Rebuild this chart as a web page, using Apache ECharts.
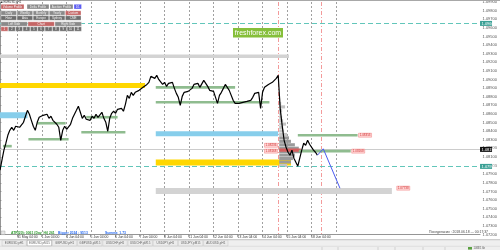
<!DOCTYPE html>
<html><head><meta charset="utf-8">
<style>html,body{margin:0;padding:0;background:#fff;overflow:hidden}#c{width:500px;height:250px;}</style>
<script src="https://cdn.jsdelivr.net/npm/echarts@6/dist/echarts.min.js"></script>
</head><body><div id="c"></div>
<script>
// ---------------- data ----------------
const priceStep = 2; // hours between plotted points
const closes = [
1.07947,1.08063,1.08179,1.08260,1.08352,1.08410,1.08445,1.08410,1.08457,1.08480,
1.08445,1.08468,1.08503,1.08573,1.08642,1.08596,1.08526,1.08457,1.08410,1.08503,
1.08561,1.08538,1.08584,1.08561,1.08596,1.08549,1.08573,1.08526,1.08549,1.08480,
1.08445,1.08294,1.08410,1.08457,1.08422,1.08445,1.08480,1.08549,1.08596,1.08642,
1.08689,1.08619,1.08549,1.08584,1.08538,1.08561,1.08526,1.08573,1.08549,1.08596,
1.08561,1.08573,1.08619,1.08549,1.08503,1.08399,1.08549,1.08607,1.08631,1.08607,
1.08654,1.08631,1.08665,1.08631,1.08712,1.08816,1.08781,1.08851,1.08816,1.08851,
1.08828,1.08874,1.08862,1.08909,1.08897,1.08943,1.08967,1.09036,1.09059,1.09013,
1.09048,1.09001,1.08978,1.08943,1.08967,1.08920,1.08955,1.08943,1.08967,1.08897,
1.08839,1.08793,1.08700,1.08804,1.08851,1.08828,1.08862,1.08839,1.08897,1.08943,
1.08920,1.08955,1.08909,1.08932,1.08990,1.08955,1.08920,1.08874,1.08897,1.08862,
1.08874,1.08723,1.08816,1.08851,1.08897,1.08943,1.08920,1.08874,1.08897,1.08758,
1.08723,1.08746,1.08723,1.08746,1.08735,1.08723,1.08746,1.08723,1.08758,1.08793,
1.08839,1.08816,1.08851,1.08665,1.08851,1.08909,1.08897,1.08943,1.08932,1.08967,
1.08990,1.09013,1.09048,1.08665,1.08468,1.08294,1.08213,1.08155,1.08121,1.08179,
1.08086,1.08063,1.07993,1.08086,1.08179,1.08260,1.08236,1.08294,1.08248,1.08225,
1.08179,1.08155,1.08121
];
const projX = [324, 330, 347];
const projP = [1.08121, 1.08195, 1.07738];

// zones: [xStart, xEnd, priceLow, priceHigh]
const grayZones   = [[0, 295, 1.0925, 1.0929], [159, 400, 1.0767, 1.0774]];
const yellowZones = [[0, 148, 1.0890, 1.0896], [159, 297, 1.0800, 1.0807]];
const blueZones   = [[0, 28, 1.0855, 1.0862], [159, 284, 1.0834, 1.0840]];
const redZones    = [[285, 307, 1.0816, 1.0820]];
// green levels: [xStart, xEnd, price]
const greenLevels = [
  [3, 12, 1.08226], [29, 70, 1.08307], [38, 67, 1.08492], [83, 128, 1.08388],
  [88, 120, 1.08562], [159, 240, 1.08909], [159, 275, 1.08735],
  [304, 365, 1.08353], [305, 358, 1.08168]
];
// price tags: [x, price]
const priceTags = [[366, 1.08353], [359, 1.08168], [405, 1.07738], [270, 1.08236], [270, 1.08168]];

const profileStart = 285;
const profileStep = 0.0004;
const profilePrices  = [1.0800,1.0804,1.0808,1.0812,1.0816,1.0820,1.0824,1.0828,1.0832,1.0836,
                        1.0840,1.0844,1.0848,1.0852,1.0856,1.0860,1.0864,1.0868,1.0872,1.0876];
const profileVolumes = [8,12,14,16,22,20,16,12,10,8,5,4,7,4,3,2,3,6,2,1];

const tealLevels = [1.0966, 1.0799];
const currentPrice = [1.0819];
const dayLines = [17.5,42.5,67.5,92.5,117.5,142.5,167.5,192.5,217.5,242.5,267.5,292.5,317.5,342.5];
const sessionLines = [284, 328];
const xLabelPos = [0,17.5,42.5,67.5,92.5,117.5,142.5,167.5,192.5,217.5,242.5,267.5,292.5,317.5];
const xLabels = ["30 May 2018","31 May 04:00","1 Jun 04:00","4 Jun 04:00","5 Jun 04:00","6 Jun 04:00",
  "7 Jun 04:00","8 Jun 04:00","11 Jun 04:00","12 Jun 04:00","13 Jun 04:00","14 Jun 04:00","15 Jun 04:00","18 Jun 04:00"];
const yMin = 1.0720, yMax = 1.0990, yStep = 0.001;

const panelRow1 = ["Volume Profile","Delta Profile","Auction Profile","D1"];
const panelRow2 = ["Daily","Weekly","Monthly","Yearly","Custom"];
const panelRow3 = ["Hour","Asia","Europe","Sydney","CME"];
const panelRow4 = ["Left Side","Chart","Right Side"];
const panelRow5 = ["1","2","3","4","5","6","7","8","9","10","11"];
const tabs = ["EURUSD,pH1","EURUSD,pM15","GBPUSD,pH1","GBPUSD,pM15","USDCHF,pH1","USDCHF,pM15","USDJPY,pH1","USDJPY,pM15","AUDUSD,pH1"];
const statusTexts = ["ATR(20): 0061 (Day_Hi) 261","Bigger 2024 : 9513","Summa: 1.73"];
const clockText = "Понедельник : 2018.06.18 — 00:17:37";

// ---------------- chart ----------------
const FONT = 'Liberation Sans';
const chart = echarts.init(document.getElementById('c'), null, {renderer:'canvas'});

function zoneSeries(data, color, z){
  return {type:'custom', silent:true, z, data, clip:true,
    encode:{x:[0,1], y:[2,3]},
    renderItem(params, api){
      const a = api.coord([api.value(0), api.value(3)]);
      const b = api.coord([api.value(1), api.value(2)]);
      return {type:'rect', shape:{x:a[0], y:a[1], width:b[0]-a[0], height:b[1]-a[1]}, style:{fill:color}};
    }};
}
function vLineSeries(values, color, dash, z){
  return {type:'custom', silent:true, z, clip:false, data: values.map(v=>[v, yMin]), encode:{x:0, y:1},
    renderItem(params, api){
      const cs = params.coordSys;
      const x = Math.round(api.coord([api.value(0), yMin])[0]) + 0.5;
      return {type:'line', shape:{x1:x, y1:cs.y, x2:x, y2:cs.y+cs.height}, style:{stroke:color, lineWidth:1, lineDash:dash}};
    }};
}
function hLineSeries(values, color, dash, labelBg, z){
  return {type:'custom', silent:true, z, clip:false, data: values.map(v=>[0, v]), encode:{x:0, y:1},
    renderItem(params, api){
      const cs = params.coordSys;
      const y = Math.round(api.coord([0, api.value(1)])[1]) + 0.5;
      const ch = [{type:'line', shape:{x1:cs.x, y1:y, x2:cs.x+cs.width, y2:y}, style:{stroke:color, lineWidth:1, lineDash:dash}}];
      if (labelBg) {
        ch.push({type:'rect', shape:{x:cs.x+cs.width, y:y-2.6, width:12, height:5}, style:{fill:labelBg}, z2:10});
        ch.push({type:'text', style:{x:cs.x+cs.width+1.5, y:y, text:api.value(1).toFixed(5), fontSize:4, fontFamily:FONT, fill:'#fff', verticalAlign:'middle'}, z2:11});
      }
      return {type:'group', children:ch};
    }};
}

const priceData = closes.map((p,i)=>[i*priceStep, p]);
const projData = projX.map((x,i)=>[x, projP[i]]);

const series = [
  vLineSeries(dayLines, '#a0a0a0', [2,2], 1),
  vLineSeries(sessionLines, '#f39a9a', [4,2,1,2], 1),
  zoneSeries(grayZones, '#d3d3d3', 2),
  zoneSeries(yellowZones, '#ffd700', 3),
  zoneSeries(blueZones, '#87ceeb', 3),
  hLineSeries(currentPrice, '#cccccc', null, '#111111', 2),
  // volume profile
  {type:'custom', silent:true, z:4,
   data: profilePrices.map((p,i)=>[profileStart, p, profileVolumes[i]]),
   encode:{x:0, y:1},
   renderItem(params, api){
     const a = api.coord([api.value(0), api.value(1)]);
     const b = api.coord([api.value(0)+api.value(2), api.value(1)]);
     const h = api.size([0, profileStep])[1];
     return {type:'rect', shape:{x:a[0], y:a[1]-h/2, width:b[0]-a[0], height:h*0.9},
       style:{fill: api.value(2) > 9 ? '#9a9a9a' : '#c4c4c4'}};
   }},
  zoneSeries(redZones, '#d65c5c', 5),
  // green levels
  {type:'custom', silent:true, z:5, data: greenLevels, encode:{x:[0,1], y:2},
   renderItem(params, api){
     const a = api.coord([api.value(0), api.value(2)]);
     const b = api.coord([api.value(1), api.value(2)]);
     return {type:'rect', shape:{x:a[0], y:a[1]-1.3, width:b[0]-a[0], height:2.6}, style:{fill:'#8fbc8f'}};
   }},
  hLineSeries(tealLevels, '#62c6ba', [5,3], '#3aa095', 6),
  // price tags
  {type:'custom', silent:true, z:8, data: priceTags, encode:{x:0, y:1},
   renderItem(params, api){
     const a = api.coord([api.value(0), api.value(1)]);
     return {type:'group', children:[
       {type:'rect', shape:{x:a[0], y:a[1]-2, width:13, height:4}, style:{fill:'#ffd6d6', stroke:'#f08080', lineWidth:0.5}},
       {type:'text', style:{x:a[0]+6.5, y:a[1], text:api.value(1).toFixed(5), fontSize:3, fontFamily:FONT, fill:'#d03030', align:'center', verticalAlign:'middle'}}
     ]};
   }},
  // price
  {type:'line', data: priceData, showSymbol:false, symbol:'none', z:10, silent:true,
   lineStyle:{color:'#000', width:1.2}},
  // projection
  {type:'line', data: projData, showSymbol:false, symbol:'none', z:10, silent:true,
   lineStyle:{color:'#4b5bf0', width:1}}
];

// ---- overlay UI ----
const g = [];
function btn(x,y,w,h,text,fill){
  g.push({type:'rect', shape:{x,y,width:w,height:h}, style:{fill, stroke:'#ffffff', lineWidth:0.3}, z:100});
  g.push({type:'text', style:{x:x+w/2, y:y+h/2+0.2, text, fontSize:3, fontFamily:FONT, fill:'#f4f4f4', align:'center', verticalAlign:'middle'}, z:101});
}
const RED='#c56565', GRAY='#8a8a8a', DGRAY='#6e6e6e', BLUE='#5c5cf2';
g.push({type:'rect', shape:{x:0,y:0,width:500,height:1}, style:{fill:'#a8a8a8'}, z:100});
g.push({type:'text', style:{x:1,y:2.3,text:'■ EURUSD,pH1', fontSize:2.8, fontFamily:FONT, fill:'#333', verticalAlign:'middle'}, z:101});
[[1,23],[27,22],[50,23],[74,7.5]].forEach((s,i)=>btn(s[0],4.3,s[1],4.7,panelRow1[i], i===0?RED:(i===3?BLUE:GRAY)));
panelRow2.forEach((t,i)=>btn(1+i*16.1,10.8,15.6,4.4,t, i===4?RED:GRAY));
panelRow3.forEach((t,i)=>btn(1+i*16.1,15.8,15.6,4.4,t, DGRAY));
panelRow4.forEach((t,i)=>btn(1+i*27,21.8,26.4,4.4,t, i===1?RED:GRAY));
panelRow5.forEach((t,i)=>btn(1+i*7.35,26.8,6.9,4.4,t, i===0?RED:DGRAY));
// freshforex badge
g.push({type:'rect', shape:{x:233,y:28,width:50,height:9.5}, style:{fill:'#86bf3a'}, z:100});
g.push({type:'text', style:{x:258,y:33,text:'freshforex.com', fontSize:7, fontFamily:FONT, fill:'#fff', align:'center', verticalAlign:'middle'}, z:101});
// status row
g.push({type:'rect', shape:{x:1,y:231,width:4,height:3.6}, style:{fill:'#e6e6e6', stroke:'#999', lineWidth:0.4}, z:100});
g.push({type:'text', style:{x:11,y:233,text:statusTexts[0], fontSize:3.4, fontFamily:FONT, fontWeight:'bold', fill:'#2f9a2f', verticalAlign:'middle'}, z:101});
g.push({type:'text', style:{x:58,y:233,text:statusTexts[1], fontSize:3.4, fontFamily:FONT, fontWeight:'bold', fill:'#2a6cf0', verticalAlign:'middle'}, z:101});
g.push({type:'text', style:{x:105,y:233,text:statusTexts[2], fontSize:3.4, fontFamily:FONT, fontWeight:'bold', fill:'#2a6cf0', verticalAlign:'middle'}, z:101});
g.push({type:'text', style:{x:488,y:232.5,text:clockText, fontSize:3.4, fontFamily:FONT, fill:'#444', align:'right', verticalAlign:'middle'}, z:101});
// bottom tab bar
g.push({type:'rect', shape:{x:0,y:239.5,width:500,height:10.5}, style:{fill:'#efefef'}, z:100});
g.push({type:'line', shape:{x1:0,y1:239.7,x2:500,y2:239.7}, style:{stroke:'#a0a0a0', lineWidth:0.6}, z:101});
tabs.forEach((t,i)=>{
  const x = 2 + i*25.2;
  g.push({type:'rect', shape:{x, y:240.3, width:24.4, height:5.6}, style:{fill: i===1?'#ffffff':'#ececec', stroke: i===1?'#777':'#bbb', lineWidth:0.4}, z:101});
  g.push({type:'text', style:{x:x+12.2, y:243.2, text:t, fontSize:3, fontFamily:FONT, fill:'#666', align:'center', verticalAlign:'middle'}, z:102});
});
g.push({type:'line', shape:{x1:0,y1:246.3,x2:500,y2:246.3}, style:{stroke:'#cfcfcf', lineWidth:0.5}, z:101});
[322,338,378,395,423,445].forEach(x=>g.push({type:'line', shape:{x1:x,y1:247,x2:x,y2:250}, style:{stroke:'#b0b0b0', lineWidth:0.5}, z:101}));
g.push({type:'rect', shape:{x:468,y:247,width:4,height:2.6}, style:{fill:'#5aa040'}, z:101});
g.push({type:'text', style:{x:473.5,y:248.4,text:'1083/1 kb', fontSize:2.6, fontFamily:FONT, fill:'#555', verticalAlign:'middle'}, z:101});

chart.setOption({
  animation:false,
  backgroundColor:'#ffffff',
  grid:{left:0, right:10, top:1.5, bottom:15.5, containLabel:false},
  xAxis:{type:'value', min:0, max:490,
    axisLine:{show:true, lineStyle:{color:'#7a7a7a', width:0.8}},
    axisTick:{show:true, customValues:xLabelPos, length:2.5, lineStyle:{color:'#7a7a7a', width:0.6}},
    axisLabel:{show:true, customValues:xLabelPos, align:'left', margin:1.2, fontSize:3.4, fontFamily:FONT, color:'#333',
      formatter:v=>{const i = xLabelPos.indexOf(v); return i>=0 ? xLabels[i] : '';}},
    splitLine:{show:false}},
  yAxis:{type:'value', position:'right', min:yMin, max:yMax, interval:yStep,
    axisLine:{show:true, lineStyle:{color:'#7a7a7a', width:0.8}},
    axisTick:{show:true, length:1.5, lineStyle:{color:'#7a7a7a', width:0.6}},
    axisLabel:{show:true, margin:2.5, fontSize:4, fontFamily:FONT, color:'#555', formatter:v=>v.toFixed(5)},
    splitLine:{show:false}},
  series,
  graphic: g
});
</script>
</body></html>
